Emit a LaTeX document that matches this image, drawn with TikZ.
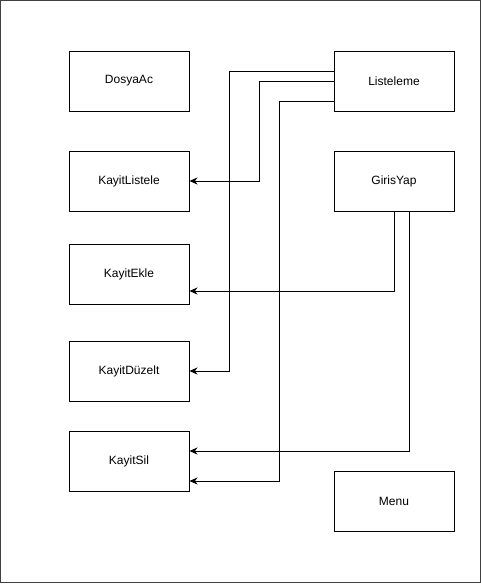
\documentclass[tikz,border=0pt]{standalone}
\usepackage{fontspec}
\setmainfont{Liberation Sans}
\usetikzlibrary{arrows.meta}
\tikzset{
  box/.style={draw=black, line width=1pt, minimum width=120pt, minimum height=60pt, inner sep=0pt, font=\fontsize{12}{14}\selectfont},
  arr/.style={draw=black, line width=1pt, -{Stealth[length=8pt,width=7pt,inset=2.5pt]}},
}
\begin{document}
\begin{tikzpicture}[x=1pt,y=-1pt]
\useasboundingbox (0,0) rectangle (481,584);
\draw[draw=black!75, line width=1.3pt] (0.7,0.7) rectangle (480.3,582.3);
\node[box] (dosya) at (129,81) {DosyaAc};
\node[box] (list) at (394,81) {Listeleme};
\node[box] (listele) at (129,181) {KayitListele};
\node[box] (giris) at (394,181) {GirisYap};
\node[box] (ekle) at (129,274) {KayitEkle};
\node[box] (duzelt) at (129,371) {KayitDüzelt};
\node[box] (sil) at (129,461) {KayitSil};
\node[box] (menu) at (394,501) {Menu};
\coordinate (c1) at (229.5,71);
\coordinate (c2) at (259.5,81);
\coordinate (c3) at (279.5,101);
\coordinate (c4) at (394.5,291);
\coordinate (c5) at (409.5,451);
\draw[arr] (list.west |- c1) -- (c1) -- (c1 |- duzelt.east) -- (duzelt.east);
\draw[arr] (list.west |- c2) -- (c2) -- (c2 |- listele.east) -- (listele.east);
\draw[arr] (list.west |- c3) -- (c3) -- (279.5,481) -- (sil.east |- 0,481);
\draw[arr] (giris.south -| c4) -- (c4) -- (ekle.east |- c4);
\draw[arr] (giris.south -| c5) -- (c5) -- (sil.east |- c5);
\end{tikzpicture}
\end{document}
